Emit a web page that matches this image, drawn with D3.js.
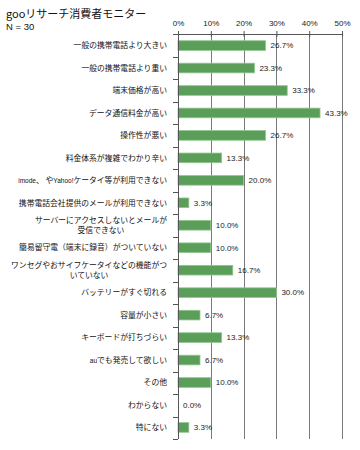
<!DOCTYPE html>
<html><head><meta charset="utf-8">
<script src="https://cdn.jsdelivr.net/npm/d3@7/dist/d3.min.js"></script>
<style>body{margin:0;background:#fff}svg{display:block}</style>
</head><body>
<svg id="c" width="360" height="450"></svg>
<script>
const categories = [
  ["一般の携帯電話より大きい"],
  ["一般の携帯電話より重い"],
  ["端末価格が高い"],
  ["データ通信料金が高い"],
  ["操作性が悪い"],
  ["料金体系が複雑でわかり辛い"],
  ["imode、 やYahoo!ケータイ等が利用できない"],
  ["携帯電話会社提供のメールが利用できない"],
  ["サーバーにアクセスしないとメールが", "受信できない"],
  ["簡易留守電（端末に録音）がついていない"],
  ["ワンセグやおサイフケータイなどの機能がつ", "いていない"],
  ["バッテリーがすぐ切れる"],
  ["容量が小さい"],
  ["キーボードが打ちづらい"],
  ["auでも発売して欲しい"],
  ["その他"],
  ["わからない"],
  ["特にない"]
];
const values = [26.7, 23.3, 33.3, 43.3, 26.7, 13.3, 20.0, 3.3, 10.0, 10.0, 16.7, 30.0, 6.7, 13.3, 6.7, 10.0, 0.0, 3.3];
const xTicks = [0, 10, 20, 30, 40, 50];
const titleText = "gooリサーチ消費者モニター";
const subText = "N = 30";

const svg = d3.select("#c");
const pL = 178, pR = 342, pT = 34, pB = 439;
const x = d3.scaleLinear().domain([0, 50]).range([pL, pR]);
const idx = d3.range(categories.length);
const y = d3.scaleBand().domain(idx).range([pT, pB]).paddingInner(0.57).paddingOuter(0.3);

const cjk = "'Noto Sans CJK JP', 'Noto Sans', sans-serif";
const lat = "'Liberation Sans', Arial, sans-serif";

svg.append("text").attr("x", 6).attr("y", 18).attr("font-family", cjk)
  .attr("font-size", 11).attr("fill", "#111").text(titleText);
svg.append("text").attr("x", 6).attr("y", 30).attr("font-family", lat)
  .attr("font-size", 9.5).attr("fill", "#111").text(subText);

// gridlines
svg.append("g").selectAll("line").data(xTicks.slice(1)).join("line")
  .attr("x1", d => Math.round(x(d)) + 0.5).attr("x2", d => Math.round(x(d)) + 0.5)
  .attr("y1", pT).attr("y2", pB)
  .attr("stroke", "#7a7a7a").attr("stroke-width", 1);

// bars
svg.append("g").selectAll("rect").data(values).join("rect")
  .attr("x", x(0)).attr("y", (d, i) => y(i))
  .attr("width", d => x(d) - x(0)).attr("height", y.bandwidth())
  .attr("fill", "#5a9e5a").attr("stroke", "#8fc78f").attr("stroke-width", 0.8)
  .style("display", d => d > 0 ? null : "none");

// value labels
svg.append("g").selectAll("text").data(values).join("text")
  .attr("x", d => x(d) + 5).attr("y", (d, i) => y(i) + y.bandwidth() / 2)
  .attr("dy", "0.35em")
  .attr("font-family", lat).attr("font-size", 8)
  .attr("fill", "#222").text(d => d.toFixed(1) + "%");

// top axis
const xAxis = d3.axisTop(x).tickValues(xTicks).tickFormat(d => d + "%").tickSizeInner(3).tickSizeOuter(0);
const gx = svg.append("g").attr("transform", `translate(0,${pT})`).call(xAxis);
gx.select(".domain").attr("stroke", "#555");
gx.selectAll(".tick line").attr("stroke", "#555").attr("y2", 3).attr("y1", -3);
gx.selectAll(".tick text").attr("font-family", lat)
  .attr("font-size", 8).attr("fill", "#222").attr("y", -8);

// left axis line & ticks between categories
const band = (pB - pT) / categories.length;
svg.append("line").attr("x1", pL + 0.5).attr("x2", pL + 0.5).attr("y1", pT).attr("y2", pB)
  .attr("stroke", "#555");
svg.append("g").selectAll("line").data(d3.range(categories.length + 1)).join("line")
  .attr("x1", pL - 5).attr("x2", pL)
  .attr("y1", i => Math.round(pT + i * band) + 0.5).attr("y2", i => Math.round(pT + i * band) + 0.5)
  .attr("stroke", "#555");

// helper: write string with smaller ASCII runs
function fill(sel, str) {
  const parts = str.match(/[\x21-\x7e]+|[^\x21-\x7e]+/g) || [];
  parts.forEach(p => {
    const ascii = /^[\x21-\x7e]+$/.test(p);
    sel.append("tspan").attr("font-size", ascii ? 6.5 : 7.8)
      .attr("font-family", ascii ? lat : cjk).text(p);
  });
}

// category labels
const lab = svg.append("g");
categories.forEach((lines, i) => {
  const cy = y(i) + y.bandwidth() / 2;
  const t = lab.append("text").attr("font-family", cjk).attr("font-size", 7.8).attr("fill", "#111");
  if (lines.length === 1) {
    t.attr("x", 167).attr("y", cy).attr("dy", "0.35em").attr("text-anchor", "end");
    fill(t, lines[0]);
  } else {
    const tmp = lab.append("text").attr("font-family", cjk).attr("font-size", 7.8).text(lines[0]);
    const w = tmp.node().getComputedTextLength();
    tmp.remove();
    const cx = 167 - w / 2;
    t.attr("text-anchor", "middle");
    lines.forEach((l, k) => {
      t.append("tspan").attr("x", cx).attr("y", cy + (k - (lines.length - 1) / 2) * 10).attr("dy", "0.35em").text(l);
    });
  }
});
</script>
</body></html>
